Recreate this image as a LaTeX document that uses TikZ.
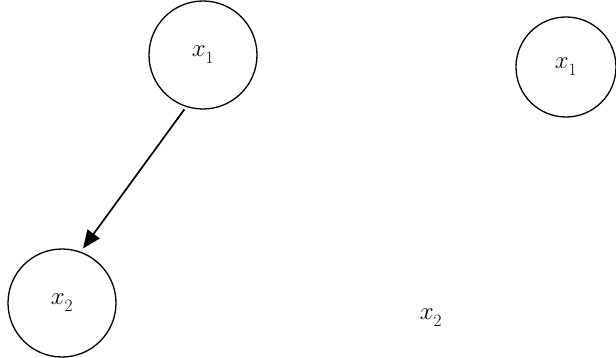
\documentclass[tikz,border=0pt]{standalone}
\usetikzlibrary{arrows.meta}
\newcommand{\varx}[1]{$x_{\raisebox{-0.3ex}{$\scriptstyle #1$}}$}
\tikzset{
  var/.style={circle, draw, line width=1.3pt, minimum size=#1, inner sep=0pt, font=\fontsize{26}{26}\selectfont},
  plain/.style={inner sep=0pt, font=\fontsize{26}{26}\selectfont},
  edge/.style={line width=1.7pt, -{Triangle[length=18pt,width=15pt]}}
}
\begin{document}
\begin{tikzpicture}[x=1pt,y=-1pt]
\useasboundingbox (0,0) rectangle (616,358);
\node[var=108pt] (a) at (203,55) {\varx{1}};
\node[var=108pt] (b) at (62,303) {\varx{2}};
\node[var=100pt] (c) at (566,67) {\varx{1}};
\node[plain] (d) at (431,318) {\varx{2}};
\draw[edge, shorten <=3pt, shorten >=4pt] (a.-108) -- (b.70);
\end{tikzpicture}
\end{document}
